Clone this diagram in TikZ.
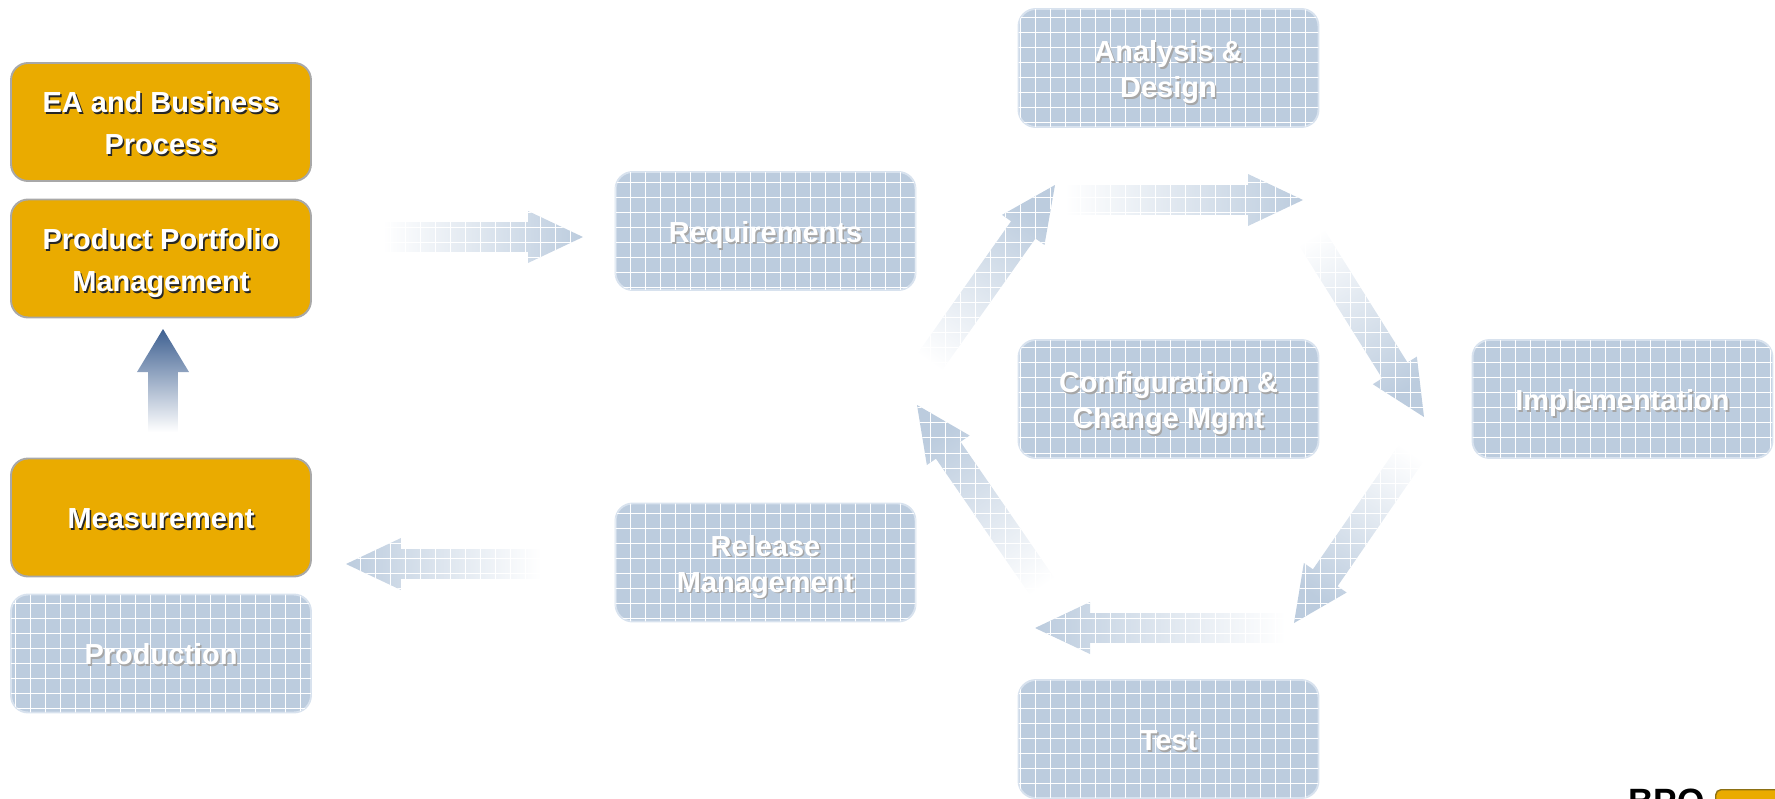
\documentclass[tikz,border=0pt]{standalone}
\usepackage{fontspec}
\setmainfont{Liberation Sans}
\usetikzlibrary{calc,patterns}

\definecolor{bpoorange}{RGB}{234,171,0}
\definecolor{bpoedge}{RGB}{168,168,168}
\definecolor{gridblue}{RGB}{188,204,222}
\definecolor{gridedge}{RGB}{216,226,238}
\definecolor{updark}{RGB}{62,96,145}
\definecolor{keyedge}{RGB}{140,112,20}

% white grid laid over the blue shapes
\pgfdeclarepatternformonly{whitegrid}{\pgfqpoint{-1pt}{-1pt}}{\pgfqpoint{8.54pt}{8.54pt}}{\pgfqpoint{8.54pt}{8.54pt}}{%
  \pgfsetlinewidth{0.45pt}%
  \pgfpathmoveto{\pgfqpoint{0pt}{0pt}}\pgfpathlineto{\pgfqpoint{0pt}{8.64pt}}%
  \pgfpathmoveto{\pgfqpoint{0pt}{0pt}}\pgfpathlineto{\pgfqpoint{8.64pt}{0pt}}%
  \pgfusepath{stroke}}

\newcommand{\shd}[1]{\leavevmode\rlap{\kern0.9pt\raisebox{-0.9pt}{\textcolor{txtshadow}{#1}}}#1}

\newcommand{\shafthw}{8.5pt}
\newcommand{\headhw}{14.8pt}
\newcommand{\headlen}{31.3pt}
\newcommand{\blockarrow}[3][]{%
  \coordinate (#2-neck) at ($(#3)!\headlen!(#2)$);
  \pgfmathanglebetweenpoints{\pgfpointanchor{#2}{center}}{\pgfpointanchor{#3}{center}}%
  \pgfmathsetmacro{\shadeang}{\pgfmathresult-90}%
  \path[#1, shading angle=\shadeang]
    ($(#2)!\shafthw!90:(#3)$) -- ($(#2-neck)!\shafthw!90:(#3)$) -- ($(#2-neck)!\headhw!90:(#3)$) -- (#3)
    -- ($(#2-neck)!\headhw!-90:(#3)$) -- ($(#2-neck)!\shafthw!-90:(#3)$) -- ($(#2)!\shafthw!-90:(#3)$) -- cycle;
}

\tikzset{
  orangebox/.style={draw=bpoedge, line width=1.1pt, fill=bpoorange, rounded corners=0.34cm,
    minimum width=6cm, minimum height=2.36cm, text=white, align=center,
    text height=16.5pt, text depth=3.5pt,
    font=\bfseries\fontsize{16.5}{23.9}\selectfont,
    execute at begin node={\colorlet{txtshadow}{black!85}}},
  orangetwo/.style={orangebox, text height=41pt},
  gridbox/.style={draw=gridedge, line width=1.1pt, fill=gridblue, rounded corners=0.34cm,
    minimum width=6cm, minimum height=2.36cm, text=white, align=center,
    text height=16.5pt, text depth=3.5pt,
    font=\bfseries\fontsize{16.5}{20.5}\selectfont,
    postaction={pattern=whitegrid, pattern color=white},
    execute at begin node={\colorlet{txtshadow}{black!35}}},
  gridtwo/.style={gridbox, text height=37.5pt},
  gridarrow/.style={top color=gridblue, bottom color=white, postaction={pattern=whitegrid, pattern color=white}},
  uparrow/.style={top color=updark, bottom color=white}
}

\begin{document}
\begin{tikzpicture}[x=0.02cm, y=-0.02cm]
\useasboundingbox (0,0) rectangle (1775,798);

% left column
\node[orangetwo] (ea) at (161,122) {\shd{EA and Business}\\\shd{Process}};
\node[orangetwo] (ppm) at (161,258.5) {\shd{Product Portfolio}\\\shd{Management}};
\node[orangebox] (meas) at (161,517.5) {\shd{Measurement}};
\node[gridbox] (prod) at (161,653.5) {\shd{Production}};

% middle column
\node[gridbox] (req) at (765.5,231) {\shd{Requirements}};
\node[gridtwo] (rel) at (765.5,562.5) {\shd{Release}\\\shd{Management}};

% cycle
\node[gridtwo] (ad) at (1168.5,68) {\shd{Analysis \&}\\\shd{Design}};
\node[gridtwo] (cm) at (1168.5,399) {\shd{Configuration \&}\\\shd{Change Mgmt}};
\node[gridbox] (test) at (1168.5,739) {\shd{Test}};
\node[gridbox] (impl) at (1622.5,399) {\shd{Implementation}};

% arrows
\coordinate (mtail) at (163,432);
\coordinate (mtip) at (163,329);
{\renewcommand{\headlen}{24.5pt}\blockarrow[uparrow]{mtail}{mtip}}

\coordinate (reqT) at (383,237);
\coordinate (reqH) at (583,237);
\blockarrow[gridarrow]{reqT}{reqH}
\coordinate (relT) at (541,564);
\coordinate (relH) at (346,564);
\blockarrow[gridarrow]{relT}{relH}

\coordinate (adT) at (1065,200);
\coordinate (adH) at (1303,200);
\coordinate (imT) at (1300,219);
\coordinate (imH) at (1424,417);
\coordinate (teT) at (1423,436);
\coordinate (teH) at (1294,623);
\coordinate (bmT) at (1285,628);
\coordinate (bmH) at (1035,628);
\coordinate (llT) at (1055,605);
\coordinate (llH) at (917,405);
\coordinate (ulT) at (917,380);
\coordinate (ulH) at (1055,185);
\blockarrow[gridarrow]{adT}{adH}
\blockarrow[gridarrow]{imT}{imH}
\blockarrow[gridarrow]{teT}{teH}
\blockarrow[gridarrow]{bmT}{bmH}
\blockarrow[gridarrow]{llT}{llH}
\blockarrow[gridarrow]{ulT}{ulH}

% key
\node[anchor=north west, inner sep=0pt, font=\bfseries\fontsize{20}{24}\selectfont] (bpo) at (1628,789) {BPO};
\node[anchor=north west, draw=keyedge, line width=0.8pt, fill=bpoorange, rounded corners=3pt,
  minimum width=2cm, minimum height=1cm] (bposwatch) at (1715,789) {};
\end{tikzpicture}
\end{document}
